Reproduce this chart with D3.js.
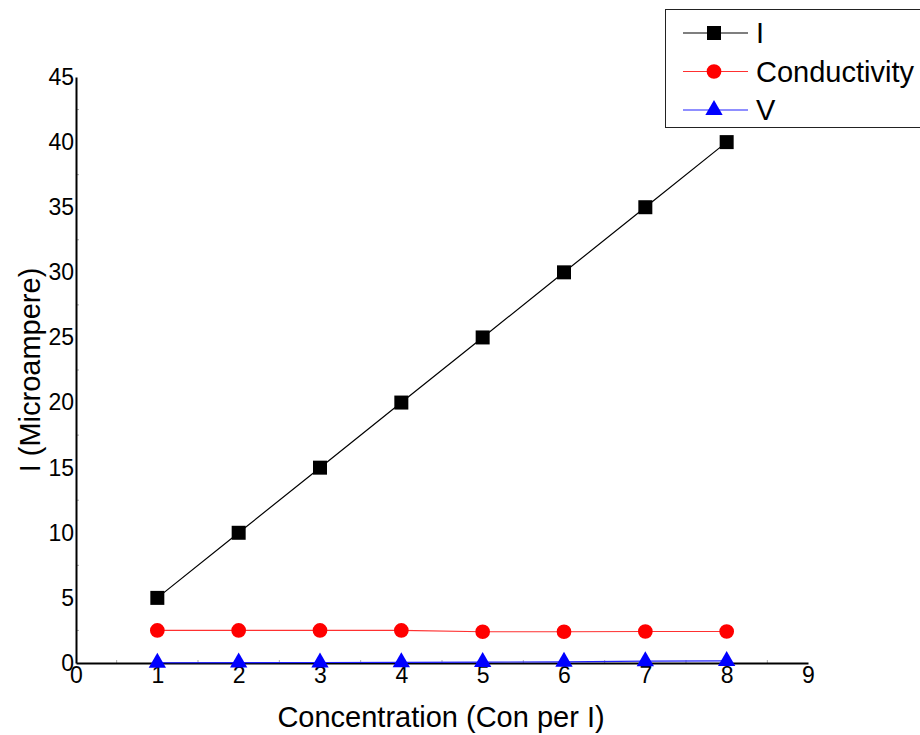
<!DOCTYPE html>
<html>
<head>
<meta charset="utf-8">
<script src="https://cdn.jsdelivr.net/npm/d3@7"></script>
<style>
  body { margin: 0; background: #fff; }
  svg { font-family: "Liberation Sans", Arial, sans-serif; }
</style>
</head>
<body>
<svg id="chart" width="920" height="735"></svg>
<script>
var concentration = [1, 2, 3, 4, 5, 6, 7, 8];
var current = [5, 10, 15, 20, 25, 30, 35, 40];
var conductivity = [2.5, 2.5, 2.5, 2.5, 2.4, 2.4, 2.42, 2.42];
var voltage = [0.02, 0.03, 0.04, 0.05, 0.07, 0.09, 0.14, 0.16];
var xTicks = [0, 1, 2, 3, 4, 5, 6, 7, 8, 9];
var yTicks = [0, 5, 10, 15, 20, 25, 30, 35, 40, 45];
var seriesNames = ["I", "Conductivity", "V"];

var svg = d3.select("#chart");
var mLeft = 76, mRight = 808, mTop = 77, mBottom = 663;

var x = d3.scaleLinear().domain([0, 9]).range([mLeft, mRight]);
var y = d3.scaleLinear().domain([0, 45]).range([mBottom, mTop]);

// minor ticks (faint, inside)
svg.append("g").selectAll("line").data(d3.range(0.5, 9, 1)).enter().append("line")
  .attr("x1", function(d) { return x(d); }).attr("x2", function(d) { return x(d); })
  .attr("y1", mBottom).attr("y2", mBottom - 3)
  .attr("stroke", "#aaa").attr("stroke-width", 1);
svg.append("g").selectAll("line").data(d3.range(2.5, 45, 5)).enter().append("line")
  .attr("x1", mLeft).attr("x2", mLeft + 3)
  .attr("y1", function(d) { return y(d); }).attr("y2", function(d) { return y(d); })
  .attr("stroke", "#aaa").attr("stroke-width", 1);

// axes
var xAxis = svg.append("g")
  .attr("transform", "translate(0," + mBottom + ")")
  .call(d3.axisBottom(x).tickValues(xTicks).tickSize(0).tickPadding(4).tickFormat(d3.format("d")));
xAxis.select(".domain").attr("stroke", "#000").attr("stroke-width", 2);
xAxis.selectAll("text").attr("font-size", 23).attr("fill", "#000")
  .attr("font-family", "Liberation Sans, Arial, sans-serif");

var yAxis = svg.append("g")
  .attr("transform", "translate(" + mLeft + ",0)")
  .call(d3.axisLeft(y).tickValues(yTicks).tickSize(0).tickPadding(2).tickFormat(d3.format("d")));
yAxis.select(".domain").attr("stroke", "#000").attr("stroke-width", 2);
yAxis.selectAll("text").attr("font-size", 23).attr("fill", "#000")
  .attr("font-family", "Liberation Sans, Arial, sans-serif");

// axis titles
svg.append("text")
  .attr("x", 441).attr("y", 727)
  .attr("text-anchor", "middle").attr("font-size", 29)
  .text("Concentration (Con per I)");
svg.append("text")
  .attr("transform", "translate(40,370) rotate(-90)")
  .attr("text-anchor", "middle").attr("font-size", 29)
  .text("I (Microampere)");

var line = d3.line()
  .x(function(d, i) { return x(concentration[i]); })
  .y(function(d) { return y(d); });

var series = [
  { name: seriesNames[0], values: current, color: "#000", lineColor: "#000", shape: d3.symbolSquare, size: 196 },
  { name: seriesNames[1], values: conductivity, color: "#ff0000", lineColor: "#ff3030", shape: d3.symbolCircle, size: 170 },
  { name: seriesNames[2], values: voltage, color: "#0000ff", lineColor: "#2020ff", shape: d3.symbolTriangle, size: 130 }
];

series.forEach(function(s) {
  svg.append("path")
    .datum(s.values)
    .attr("d", line)
    .attr("fill", "none")
    .attr("stroke", s.lineColor)
    .attr("stroke-width", 1.2);
  svg.append("g").selectAll("path").data(s.values).enter().append("path")
    .attr("transform", function(d, i) { return "translate(" + x(concentration[i]) + "," + y(d) + ")"; })
    .attr("d", d3.symbol().type(s.shape).size(s.size))
    .attr("fill", s.color);
});

// legend
var legend = svg.append("g");
legend.append("rect")
  .attr("x", 665.5).attr("y", 9.5).attr("width", 270).attr("height", 118)
  .attr("fill", "#fff").attr("stroke", "#222").attr("stroke-width", 1);
series.forEach(function(s, i) {
  var ly = 33 + i * 38.5;
  legend.append("line")
    .attr("x1", 683).attr("x2", 748).attr("y1", ly).attr("y2", ly)
    .attr("stroke", s.lineColor).attr("stroke-width", 1.2);
  legend.append("path")
    .attr("transform", "translate(714," + ly + ")")
    .attr("d", d3.symbol().type(s.shape).size(s.size))
    .attr("fill", s.color);
  legend.append("text")
    .attr("x", 756).attr("y", ly + 10)
    .attr("font-size", 29)
    .text(s.name);
});
</script>
</body>
</html>
